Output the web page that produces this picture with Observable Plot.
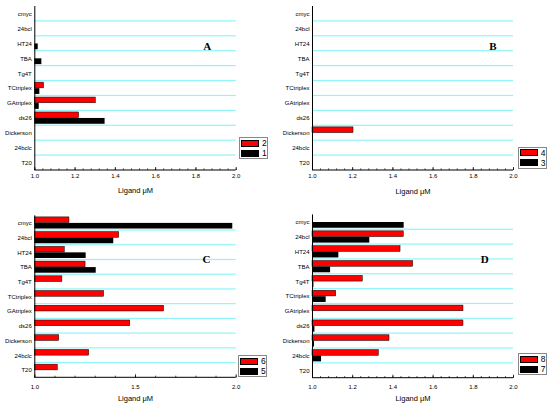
<!DOCTYPE html>
<html>
<head>
<meta charset="utf-8">
<script src="https://cdn.jsdelivr.net/npm/d3@7"></script>
<script src="https://cdn.jsdelivr.net/npm/@observablehq/plot@0.6"></script>
<style>
  body { margin: 0; background: #fff; }
  #wrap { position: relative; width: 550px; height: 409px; background: #fff; overflow: hidden; }
  .panel { position: absolute; }
  .legend { position: absolute; width: 27px; height: 20px; border: 1px solid #888; background: #fff;
            font-family: "Liberation Sans", Arial, sans-serif; font-size: 8.5px; }
  .sw { position: absolute; left: 1px; width: 18px; height: 7px; border: 0.5px solid #000; box-sizing: border-box; }
  .lb { position: absolute; left: 22px; line-height: 8px; }
</style>
</head>
<body>
<div id="wrap"></div>
<script>
// ---- data ----
const categories = ["cmyc","24bcl","HT24","TBA","Tg4T","TCtriplex","GAtriplex","ds26","Dickerson","24bclc","T20"];

// Panel A: series "2" (red) and "1" (black)
const A2 = [null, null, null, null, null, 1.046, 1.303, 1.220, null, null, null];
const A1 = [null, null, 1.017, 1.035, null, 1.025, 1.022, 1.349, null, null, null];
// Panel B: series "4" (red) and "3" (black)
const B4 = [null, null, null, null, null, null, null, null, 1.204, null, null];
const B3 = [null, null, null, null, null, null, null, null, null, null, null];
// Panel C: series "6" (red) and "5" (black)
const C6 = [1.172, 1.419, 1.149, 1.252, 1.137, 1.344, 1.642, 1.474, 1.121, 1.270, 1.114];
const C5 = [1.983, 1.392, 1.255, 1.305, null, null, null, null, null, null, null];
// Panel D: series "8" (red) and "7" (black)
const D8 = [null, 1.454, 1.438, 1.501, 1.250, 1.118, 1.751, 1.751, 1.383, 1.330, null];
const D7 = [1.456, 1.285, 1.131, 1.090, 1.007, 1.068, null, 1.012, 1.010, 1.045, null];

const xMin = 1.0, xMax = 2.0;
const ticksFine = [1.0, 1.2, 1.4, 1.6, 1.8, 2.0];
const ticksCoarse = [1.0, 1.5, 2.0];
const minorFine = d3.range(0, 26).map(i => 1 + i * 0.04);
const minorCoarse = d3.range(0, 11).map(i => 1 + i * 0.1);

const RED = "#ff0000", BLACK = "#000000", CYAN = "#8ef6fa";

function panel(cfg) {
  const bw = (cfg.height - cfg.mt - cfg.mb) / categories.length;
  const redRows = [], blackRows = [];
  categories.forEach((c, i) => {
    if (cfg.red[i] != null) redRows.push({cat: c, v: cfg.red[i]});
    if (cfg.black[i] != null) blackRows.push({cat: c, v: cfg.black[i]});
  });
  const last = categories[categories.length - 1];
  return Plot.plot({
    width: 275, height: cfg.height,
    marginLeft: cfg.ml, marginRight: cfg.mr, marginTop: cfg.mt, marginBottom: cfg.mb,
    style: {fontFamily: "'Liberation Sans', Arial, sans-serif", fontSize: "6px", color: "#000", background: "transparent", overflow: "visible"},
    x: {domain: [xMin, xMax], ticks: cfg.major, tickFormat: d3.format(".1f"), tickSize: 0, tickPadding: cfg.tp, label: null},
    y: {domain: categories, padding: 0, round: false, tickSize: 0, tickPadding: 3, label: null},
    marks: [
      // cyan separators between categories
      Plot.barX(categories.slice(0, -1), {y: d => d, x1: xMin, x2: xMax, fill: CYAN, insetTop: bw - 0.6, insetBottom: -0.6}),
      // bars
      Plot.barX(redRows, {y: "cat", x1: xMin, x2: "v", fill: RED, stroke: BLACK, strokeWidth: 0.5, insetTop: 1.6, insetBottom: bw - 7.3}),
      Plot.barX(blackRows, {y: "cat", x1: xMin, x2: "v", fill: BLACK, insetTop: 7.6, insetBottom: 1.5}),
      // axis lines
      Plot.barX([last], {y: d => d, x1: xMin, x2: xMax, fill: BLACK, insetTop: bw - 0.5, insetBottom: -0.5}),
      Plot.ruleX([xMin], {stroke: BLACK, strokeWidth: 1}),
      // inward ticks
      Plot.tickX(cfg.minor, {x: d => d, y: () => last, stroke: BLACK, strokeWidth: 0.7, insetTop: bw - 1.6}),
      Plot.tickX(cfg.major, {x: d => d, y: () => last, stroke: BLACK, strokeWidth: 0.8, insetTop: bw - 3}),
      Plot.axisX({ticks: cfg.major, tickFormat: d3.format(".1f"), tickSize: 0, tickPadding: cfg.tp, fontSize: 6}),
      Plot.axisY({tickSize: 0, tickPadding: 3, fontSize: 6}),
      // axis title
      Plot.text(["Ligand \u03bcM"], {text: d => d, frameAnchor: "bottom", dy: cfg.ly, fontSize: 7.5}),
      // panel letter
      Plot.text([cfg.letter], {text: d => d, frameAnchor: "top-right", dx: cfg.ldx, dy: cfg.ldy,
        fontFamily: "'Liberation Serif', 'Times New Roman', serif", fontWeight: "bold", fontSize: 11})
    ]
  });
}

const panels = [
  {letter: "A", left: 0,   top: 0,   height: 204, mt: 6,    mb: 34,   ml: 34.3, mr: 39.3, tp: 3.6, ly: 22,   ldx: -25, ldy: 36,
   red: A2, black: A1, major: ticksFine, minor: minorFine, legend: ["2", "1"], lg: [239, 137]},
  {letter: "B", left: 275, top: 0,   height: 204, mt: 6,    mb: 34,   ml: 37,   mr: 37,   tp: 3.6, ly: 23.3, ldx: -17, ldy: 36,
   red: B4, black: B3, major: ticksFine, minor: minorFine, legend: ["4", "3"], lg: [517.7, 146.7]},
  {letter: "C", left: 0,   top: 205, height: 204, mt: 10.3, mb: 31.7, ml: 34.3, mr: 39.3, tp: 7,   ly: 22.7, ldx: -25.7, ldy: 39.7,
   red: C6, black: C5, major: ticksCoarse, minor: minorCoarse, legend: ["6", "5"], lg: [238, 355]},
  {letter: "D", left: 275, top: 205, height: 204, mt: 9.4,  mb: 31.3, ml: 37,   mr: 37,   tp: 7,   ly: 22.3, ldx: -24.7, ldy: 40.6,
   red: D8, black: D7, major: ticksFine, minor: minorFine, legend: ["8", "7"], lg: [517.7, 353]}
];

const wrap = document.getElementById("wrap");
for (const cfg of panels) {
  const div = document.createElement("div");
  div.className = "panel";
  div.style.left = cfg.left + "px";
  div.style.top = cfg.top + "px";
  div.appendChild(panel(cfg));
  wrap.appendChild(div);

  const lg = document.createElement("div");
  lg.className = "legend";
  lg.style.left = cfg.lg[0] + "px";
  lg.style.top = cfg.lg[1] + "px";
  lg.innerHTML =
    `<div class="sw" style="top:1.5px;background:${RED}"></div><div class="lb" style="top:1px">${cfg.legend[0]}</div>` +
    `<div class="sw" style="top:11.5px;background:${BLACK}"></div><div class="lb" style="top:11px">${cfg.legend[1]}</div>`;
  wrap.appendChild(lg);
}
</script>
</body>
</html>
